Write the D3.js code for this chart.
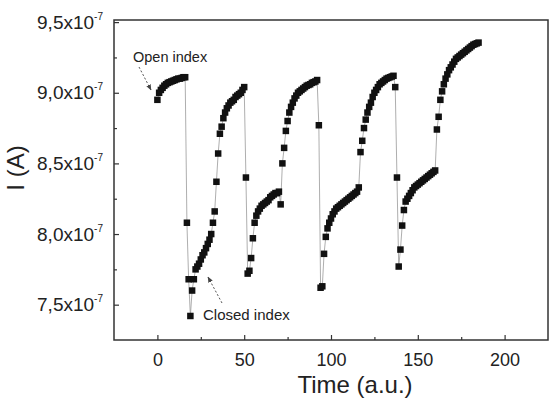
<!DOCTYPE html>
<html lang="en">
<head>
<meta charset="UTF-8">
<title>I (A) vs Time</title>
<script src="https://d3js.org/d3.v7.min.js"></script>
<style>
  body { margin: 0; background: #fff; }
  svg text { font-family: "Liberation Sans", Arial, sans-serif; fill: #222; }
</style>
</head>
<body>
<svg width="552" height="405"></svg>
<script>
// current in units of 1e-7 A, one sample per time unit
const time = [
  0, 1, 2, 3, 4, 5, 6, 7, 8, 9, 10, 11, 12, 13, 14, 15, 16, 17, 18, 19,
  20, 21, 22, 23, 24, 25, 26, 27, 28, 29, 30, 31, 32, 33, 34, 35, 36, 37, 38, 39,
  40, 41, 42, 43, 44, 45, 46, 47, 48, 49, 50, 51, 52, 53, 54, 55, 56, 57, 58, 59,
  60, 61, 62, 63, 64, 65, 66, 67, 68, 69, 70, 71, 72, 73, 74, 75, 76, 77, 78, 79,
  80, 81, 82, 83, 84, 85, 86, 87, 88, 89, 90, 91, 92, 93, 94, 95, 96, 97, 98, 99,
  100, 101, 102, 103, 104, 105, 106, 107, 108, 109, 110, 111, 112, 113, 114, 115, 116, 117, 118, 119,
  120, 121, 122, 123, 124, 125, 126, 127, 128, 129, 130, 131, 132, 133, 134, 135, 136, 137, 138, 139,
  140, 141, 142, 143, 144, 145, 146, 147, 148, 149, 150, 151, 152, 153, 154, 155, 156, 157, 158, 159,
  160, 161, 162, 163, 164, 165, 166, 167, 168, 169, 170, 171, 172, 173, 174, 175, 176, 177, 178, 179,
  180, 181, 182, 183, 184, 185
];
const current = [
  8.95, 9.00, 9.02, 9.035, 9.05, 9.06, 9.07, 9.075, 9.08, 9.085, 9.09, 9.095, 9.10, 9.10, 9.105, 9.11, 9.11, 8.08, 7.68, 7.42,
  7.60, 7.68, 7.75, 7.77, 7.79, 7.82, 7.85, 7.87, 7.90, 7.93, 7.96, 8.00, 8.08, 8.16, 8.37, 8.57, 8.71, 8.76, 8.82, 8.86,
  8.89, 8.91, 8.93, 8.94, 8.95, 8.97, 8.98, 8.99, 9.00, 9.02, 9.04, 8.40, 7.72, 7.74, 7.83, 7.97, 8.08, 8.13, 8.16, 8.18,
  8.20, 8.21, 8.22, 8.23, 8.24, 8.26, 8.27, 8.28, 8.29, 8.29, 8.30, 8.21, 8.50, 8.61, 8.73, 8.80, 8.86, 8.90, 8.93, 8.96,
  8.98, 9.00, 9.01, 9.02, 9.03, 9.04, 9.05, 9.055, 9.06, 9.07, 9.075, 9.08, 9.09, 8.77, 7.62, 7.63, 7.86, 7.98, 8.04, 8.08,
  8.11, 8.14, 8.16, 8.18, 8.19, 8.20, 8.21, 8.22, 8.23, 8.24, 8.25, 8.26, 8.27, 8.28, 8.29, 8.30, 8.33, 8.58, 8.66, 8.75,
  8.81, 8.86, 8.90, 8.93, 8.97, 9.00, 9.02, 9.04, 9.06, 9.07, 9.08, 9.09, 9.10, 9.105, 9.11, 9.115, 9.12, 9.04, 8.40, 7.77,
  7.89, 8.06, 8.17, 8.23, 8.25, 8.27, 8.29, 8.31, 8.33, 8.34, 8.35, 8.36, 8.37, 8.38, 8.39, 8.40, 8.41, 8.42, 8.43, 8.44,
  8.45, 8.74, 8.83, 8.95, 9.01, 9.06, 9.10, 9.13, 9.16, 9.18, 9.20, 9.22, 9.24, 9.25, 9.26, 9.27, 9.28, 9.29, 9.30, 9.31,
  9.32, 9.33, 9.34, 9.345, 9.35, 9.355
];

const xTicks = [0, 50, 100, 150, 200];
const xMinor = [25, 75, 125, 175];
const yTicks = [7.5, 8.0, 8.5, 9.0, 9.5];
const yMinor = [7.75, 8.25, 8.75, 9.25];
const yTickLabels = ["7,5x10", "8,0x10", "8,5x10", "9,0x10", "9,5x10"];

const svg = d3.select("svg");
const mLeft = 114, mRight = 548, mTop = 20, mBottom = 340;

const x = d3.scaleLinear().domain([-25, 225]).range([mLeft, mRight]);
const y = d3.scaleLinear().domain([7.25, 9.515]).range([mBottom, mTop]);

const data = time.map((t, i) => ({ t: t, v: current[i] }));

// thin connecting line
svg.append("path")
  .datum(data)
  .attr("fill", "none")
  .attr("stroke", "#999")
  .attr("stroke-width", 0.8)
  .attr("d", d3.line().x(d => x(d.t)).y(d => y(d.v)));

// square markers
const s = 6.5;
svg.append("g").selectAll("rect")
  .data(data)
  .join("rect")
  .attr("x", d => x(d.t) - s / 2)
  .attr("y", d => y(d.v) - s / 2)
  .attr("width", s)
  .attr("height", s)
  .attr("fill", "#111");

// axes, ticks pointing inward
const xAxis = svg.append("g")
  .attr("transform", `translate(0,${mBottom})`)
  .call(d3.axisBottom(x).tickValues(xTicks).tickSize(-5).tickPadding(13));
xAxis.select(".domain").remove();
xAxis.selectAll("text").attr("font-size", 18).attr("fill", "#222");

svg.append("g")
  .attr("transform", `translate(0,${mBottom})`)
  .call(d3.axisBottom(x).tickValues(xMinor).tickSize(-3).tickFormat(""))
  .select(".domain").remove();

const yAxis = svg.append("g")
  .attr("transform", `translate(${mLeft},0)`)
  .call(d3.axisLeft(y).tickValues(yTicks).tickSize(-5).tickPadding(11).tickFormat(""));
yAxis.select(".domain").remove();
yAxis.selectAll("text").each(function (d, i) {
  const t = d3.select(this)
    .attr("font-size", 19)
    .attr("dy", "0.32em");
  t.append("tspan").text(yTickLabels[i]);
  t.append("tspan").text("-7").attr("font-size", 10).attr("dy", -9);
});

svg.append("g")
  .attr("transform", `translate(${mLeft},0)`)
  .call(d3.axisLeft(y).tickValues(yMinor).tickSize(-3).tickFormat(""))
  .select(".domain").remove();

svg.selectAll(".tick line").attr("stroke", "#333").attr("stroke-width", 1.2);

// frame
svg.append("rect")
  .attr("x", mLeft).attr("y", mTop)
  .attr("width", mRight - mLeft).attr("height", mBottom - mTop)
  .attr("fill", "none").attr("stroke", "#333").attr("stroke-width", 1.5);

// axis titles
svg.append("text")
  .attr("x", 355).attr("y", 393)
  .attr("text-anchor", "middle")
  .attr("font-size", 24)
  .text("Time (a.u.)");

svg.append("text")
  .attr("transform", "translate(24,168) rotate(-90)")
  .attr("text-anchor", "middle")
  .attr("font-size", 24)
  .text("I (A)");

// annotations
svg.append("defs").append("marker")
  .attr("id", "arrow")
  .attr("viewBox", "0 0 10 10")
  .attr("refX", 9).attr("refY", 5)
  .attr("markerWidth", 6).attr("markerHeight", 6)
  .attr("orient", "auto")
  .append("path")
  .attr("d", "M0,1 L10,5 L0,9 z")
  .attr("fill", "#444");

svg.append("text")
  .attr("x", 133).attr("y", 62)
  .attr("font-size", 14.5)
  .text("Open index");

svg.append("line")
  .attr("x1", 139).attr("y1", 67).attr("x2", 151).attr("y2", 90)
  .attr("stroke", "#555").attr("stroke-width", 1)
  .attr("stroke-dasharray", "2,2")
  .attr("marker-end", "url(#arrow)");

svg.append("text")
  .attr("x", 203).attr("y", 320)
  .attr("font-size", 15)
  .text("Closed index");

svg.append("line")
  .attr("x1", 222).attr("y1", 303).attr("x2", 208).attr("y2", 277)
  .attr("stroke", "#555").attr("stroke-width", 1)
  .attr("stroke-dasharray", "2,2")
  .attr("marker-end", "url(#arrow)");
</script>
</body>
</html>
